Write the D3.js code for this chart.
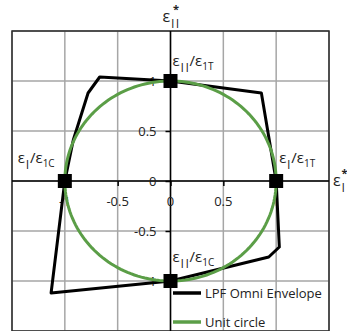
<!DOCTYPE html>
<html>
<head>
<meta charset="utf-8">
<script src="https://cdn.jsdelivr.net/npm/d3@7"></script>
<style>
  html, body { margin: 0; padding: 0; background: #fff; }
  svg { display: block; font-family: "Open Sans", sans-serif; }
</style>
</head>
<body>
<svg id="chart" width="347" height="331"></svg>
<script>
// Normalised failure envelope vs. the unit circle
const tickValues = [-1.5, -1, -0.5, 0, 0.5, 1, 1.5];
const tickLabelsX = ["-1", "-0.5", "0", "0.5", "1"];
const tickLabelsY = ["1", "0.5", "0", "-0.5", "-1"];
const tickLabelValuesX = [-1, -0.5, 0, 0.5, 1];
const tickLabelValuesY = [1, 0.5, 0, -0.5, -1];

// LPF omni envelope vertices (x = ε|*, y = ε||*)
const envelopeX = [0, -0.67, -0.78, -0.92, -1, -1.13, 0, 0.93, 1.03, 1.0, 0.86, 0];
const envelopeY = [1, 1.04, 0.88, 0.41, 0, -1.12, -1, -0.76, -0.66, 0, 0.88, 1];

// Uniaxial strength points
const pointX = [0, -1, 1, 0];
const pointY = [1, 0, 0, -1];
const pointLabels = [
  { main: "ε", sub: "||", den: "ε", dsub: "1T" },
  { main: "ε", sub: "|", den: "ε", dsub: "1C" },
  { main: "ε", sub: "|", den: "ε", dsub: "1T" },
  { main: "ε", sub: "||", den: "ε", dsub: "1C" }
];

const legendLabels = ["LPF Omni Envelope", "Unit circle"];
const colors = { envelope: "#000000", circle: "#5b9e47", grid: "#a6a6a6" };

const svg = d3.select("#chart");
const x = d3.scaleLinear().domain([-1.5, 1.5]).range([12, 329]);
const y = d3.scaleLinear().domain([-1.5, 1.5]).range([331, 31]);

// grid
const grid = svg.append("g");
grid.selectAll("line.v").data(tickValues).join("line")
  .attr("x1", d => x(d)).attr("x2", d => x(d))
  .attr("y1", y(1.5)).attr("y2", y(-1.5))
  .attr("stroke", colors.grid).attr("stroke-width", 1.5);
grid.selectAll("line.h").data(tickValues).join("line")
  .attr("y1", d => y(d)).attr("y2", d => y(d))
  .attr("x1", x(-1.5)).attr("x2", x(1.5))
  .attr("stroke", colors.grid).attr("stroke-width", 1.5);

// outer frame
svg.append("rect")
  .attr("x", x(-1.5)).attr("y", y(1.5))
  .attr("width", x(1.5) - x(-1.5)).attr("height", y(-1.5) - y(1.5))
  .attr("fill", "none").attr("stroke", "#2b2b2b").attr("stroke-width", 1.5);

// axes through the origin
const yAxis = d3.axisLeft(y).tickValues(tickLabelValuesY).tickSize(5).tickFormat("");
const xAxis = d3.axisBottom(x).tickValues(tickLabelValuesX).tickSize(5).tickFormat("");
svg.append("g").attr("transform", `translate(${x(0)},0)`).call(yAxis)
  .call(g => g.select(".domain").attr("stroke", "#000").attr("stroke-width", 1.5).attr("d", `M0,${y(1.5)}V${y(-1.5)}`))
  .call(g => g.selectAll(".tick line").attr("stroke", "#000").attr("stroke-width", 1.5));
svg.append("g").attr("transform", `translate(0,${y(0)})`).call(xAxis)
  .call(g => g.select(".domain").attr("stroke", "#000").attr("stroke-width", 1.5).attr("d", `M${x(-1.5)},0H${x(1.5)}`))
  .call(g => g.selectAll(".tick line").attr("stroke", "#000").attr("stroke-width", 1.5));

// tick labels
svg.append("g").selectAll("text").data(tickLabelValuesY).join("text")
  .attr("x", x(0) - 14).attr("y", d => y(d)).attr("dy", "0.35em")
  .attr("text-anchor", "end").attr("font-size", 13).attr("fill", "#222")
  .text((d, i) => tickLabelsY[i]);
svg.append("g").selectAll("text").data(tickLabelValuesX).join("text")
  .attr("x", d => x(d)).attr("y", y(0) + 20).attr("dy", "0.35em")
  .attr("text-anchor", "middle").attr("font-size", 13).attr("fill", "#222")
  .text((d, i) => tickLabelsX[i]);

// envelope
const env = envelopeX.map((v, i) => [v, envelopeY[i]]);
svg.append("path").datum(env)
  .attr("d", d3.line().x(d => x(d[0])).y(d => y(d[1])))
  .attr("fill", "none").attr("stroke", colors.envelope)
  .attr("stroke-width", 3).attr("stroke-linejoin", "round");

// unit circle
const angles = d3.range(0, 361, 2);
svg.append("path").datum(angles)
  .attr("d", d3.line()
    .x(a => x(Math.cos(a * Math.PI / 180)))
    .y(a => y(Math.sin(a * Math.PI / 180))))
  .attr("fill", "none").attr("stroke", colors.circle).attr("stroke-width", 3);

// square markers
const pts = pointX.map((v, i) => ({ x: v, y: pointY[i], label: pointLabels[i] }));
svg.append("g").selectAll("rect").data(pts).join("rect")
  .attr("x", d => x(d.x) - 7).attr("y", d => y(d.y) - 7)
  .attr("width", 14).attr("height", 14).attr("fill", "#000");

// point labels
const labelOffsets = [[2, -15], [-47, -18], [108, -18], [2, -19]];
const lbl = svg.append("g").selectAll("text").data(pts).join("text")
  .attr("x", (d, i) => x(d.x) + (i === 2 ? 3 : labelOffsets[i][0]))
  .attr("y", (d, i) => y(d.y) + labelOffsets[i][1])
  .attr("font-size", 15).attr("fill", "#222");
lbl.each(function (d) {
  const t = d3.select(this);
  t.append("tspan").text(d.label.main);
  t.append("tspan").attr("font-size", 9).attr("dy", 4).attr("font-weight", "bold").text(d.label.sub);
  t.append("tspan").attr("dy", -4).text("/" + d.label.den);
  t.append("tspan").attr("font-size", 10).attr("dy", 4).text(d.label.dsub);
});

// axis titles
function axisTitle(px, py, sub) {
  const t = svg.append("text").attr("x", px).attr("y", py).attr("font-size", 16).attr("fill", "#222");
  t.append("tspan").text("ε");
  t.append("tspan").attr("font-size", 9).attr("dy", 4).attr("font-weight", "bold").text(sub);
  t.append("tspan").attr("font-size", 11).attr("font-weight", "bold")
    .attr("dx", sub.length > 1 ? -7 : -4).attr("dy", -13).text("*");
}
axisTitle(x(0) - 8, 22, "||");
axisTitle(333, 186, "|");

// legend
const legend = svg.append("g");
const legendColors = [colors.envelope, colors.circle];
legendLabels.forEach((name, i) => {
  const ly = 293 + i * 29;
  legend.append("line").attr("x1", 173).attr("x2", 201).attr("y1", ly).attr("y2", ly)
    .attr("stroke", legendColors[i]).attr("stroke-width", 3.5);
  legend.append("text").attr("x", 205).attr("y", ly).attr("dy", "0.35em")
    .attr("font-size", 13).attr("fill", "#222").text(name);
});
</script>
</body>
</html>
